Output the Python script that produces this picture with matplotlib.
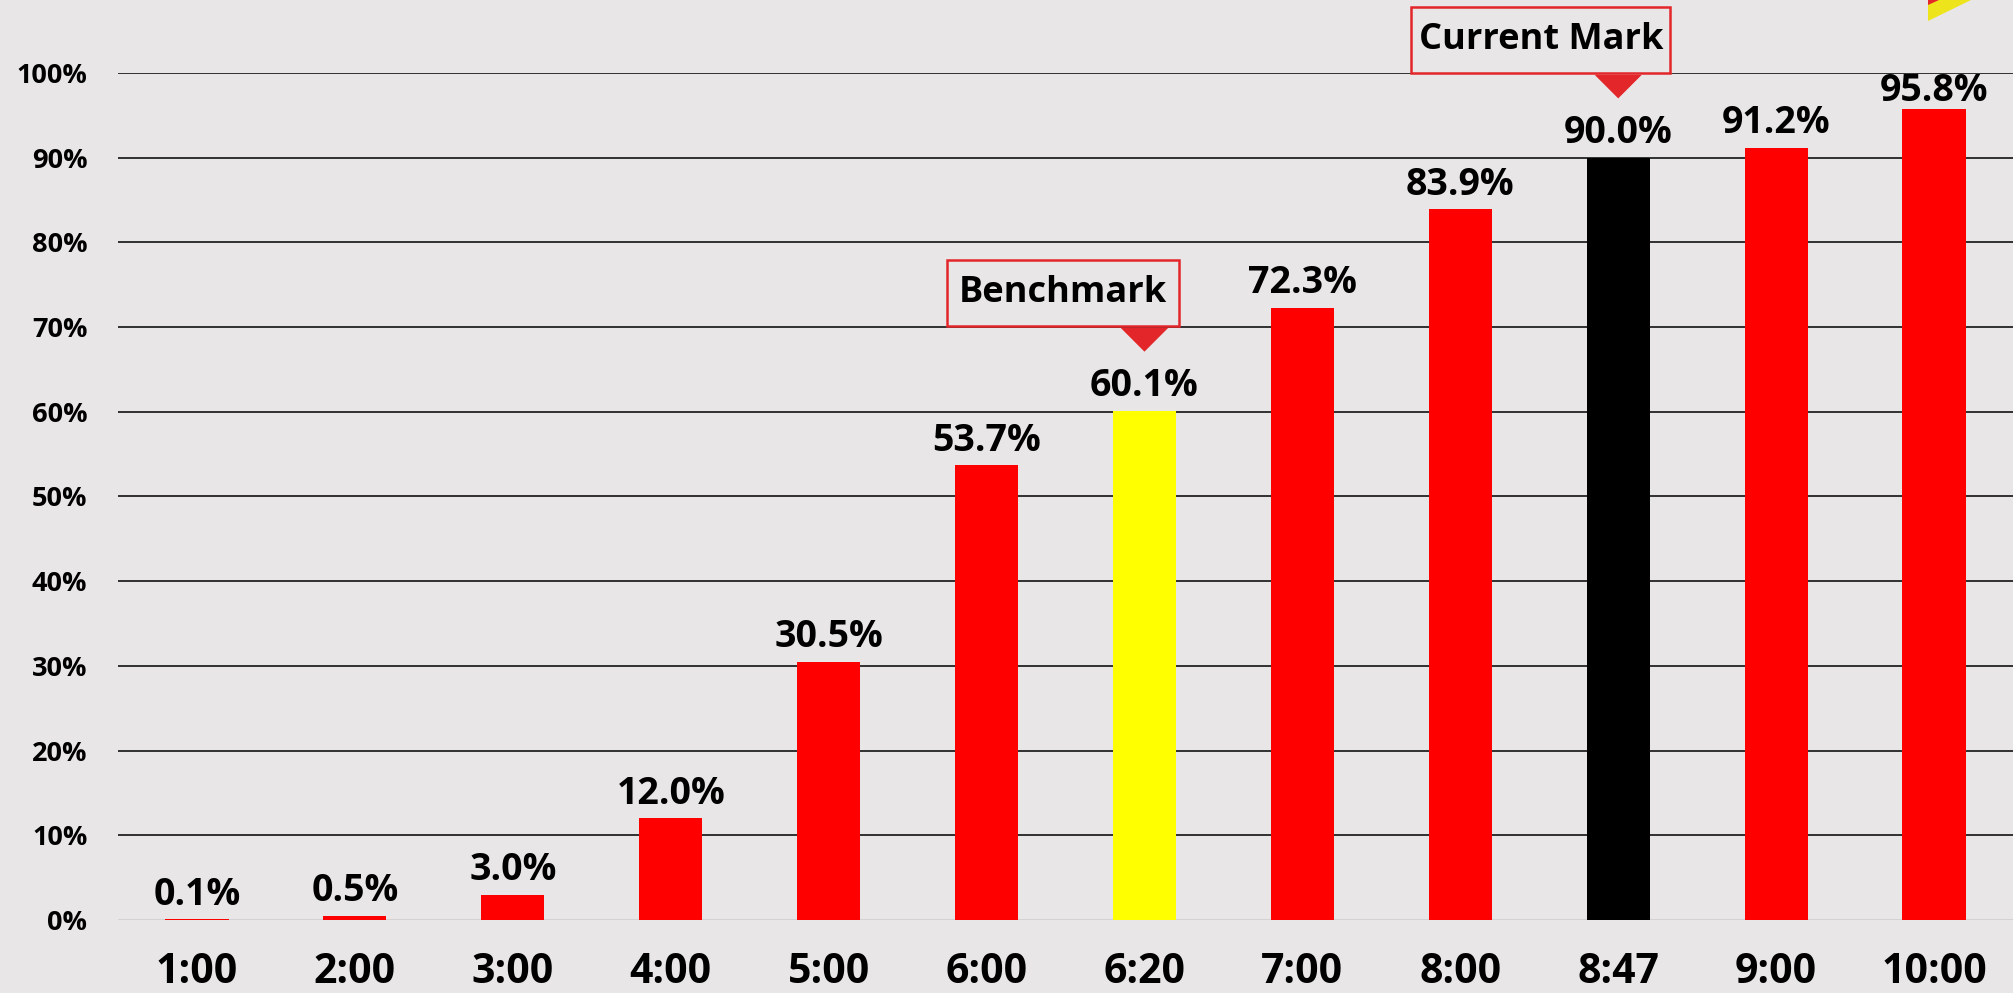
import matplotlib
matplotlib.use("Agg")
import matplotlib.pyplot as plt
from matplotlib.patches import Rectangle, Polygon
from matplotlib.ticker import FuncFormatter

plt.rcParams["font.family"] = ["Open Sans", "DejaVu Sans"]
plt.rcParams["font.weight"] = "bold"

# data
times = ["1:00", "2:00", "3:00", "4:00", "5:00", "6:00", "6:20",
         "7:00", "8:00", "8:47", "9:00", "10:00"]
shares = [0.1, 0.5, 3.0, 12.0, 30.5, 53.7, 60.1, 72.3, 83.9, 90.0, 91.2, 95.8]
bar_colors = ["#FF0000"] * 6 + ["#FFFF00"] + ["#FF0000"] * 2 + ["#000000"] + ["#FF0000"] * 2
# callout label -> (bar index, box left offset, box width) in category units
callouts = {"Benchmark": (6, -1.25, 1.47), "Current Mark": (9, -1.31, 1.64)}

BG = "#E8E6E7"
CALLOUT_RED = "#E3262A"

fig = plt.figure(figsize=(20.13, 9.93), dpi=100, facecolor=BG)
ax = fig.add_axes([118 / 2013, 73 / 993, 1 - 118 / 2013, (920 - 73) / 993])
ax.set_facecolor(BG)

x = list(range(len(times)))
ax.bar(x, shares, width=0.4, color=bar_colors, zorder=3)

ax.set_xlim(-0.5, len(times) - 0.5)
ax.set_ylim(0, 100)
ax.set_yticks(range(0, 101, 10))
ax.yaxis.set_major_formatter(FuncFormatter(lambda v, p: f"{v:.0f}%"))
ax.set_xticks(x)
ax.set_xticklabels(times)

ax.tick_params(axis="y", length=0, pad=22, labelsize=19.5)
ax.tick_params(axis="x", length=0, pad=23, labelsize=29.5)
for lab in ax.get_xticklabels() + ax.get_yticklabels():
    lab.set_fontweight("bold")

for s in ax.spines.values():
    s.set_visible(False)
for v in range(10, 101, 10):
    ax.axhline(v, color="#000000", linewidth=1.1, zorder=1)
ax.axhline(0, color="#D4D2D3", linewidth=1.5, zorder=1)

# value labels (the top one is pushed down a little to stay in the chart)
for xi, val in zip(x, shares):
    off = 4 if val < 95 else -1
    ax.annotate(f"{val:.1f}%", (xi, val), xytext=(0, off), textcoords="offset points",
                ha="center", va="bottom", fontsize=27, fontweight="bold",
                color="#000000", zorder=4, annotation_clip=False)

# callouts: box + downward triangle
for label, (idx, left, width) in callouts.items():
    val = shares[idx]
    apex = val + 7.0
    base = apex + 2.8
    tri = Polygon([(idx - 0.15, base), (idx + 0.15, base), (idx, apex)],
                  closed=True, facecolor=CALLOUT_RED, edgecolor="none",
                  zorder=5, clip_on=False)
    ax.add_patch(tri)
    box_bottom = base + 0.2
    box_top = box_bottom + 7.8
    box = Rectangle((idx + left, box_bottom), width, box_top - box_bottom,
                    facecolor="none", edgecolor=CALLOUT_RED, linewidth=1.8,
                    zorder=5, clip_on=False)
    ax.add_patch(box)
    ax.text(idx + left + width / 2, (box_bottom + box_top) / 2, label,
            ha="center", va="center", fontsize=26, fontweight="bold",
            color="#000000", zorder=6)

# decorative corner stripe (top right)
fig.patches.append(Polygon([(1928 / 2013, 1 - 21 / 993), (1928 / 2013, 1.0), (1971 / 2013, 1.0)],
                           closed=True, transform=fig.transFigure,
                           facecolor="#EEE41C", edgecolor="none"))
fig.patches.append(Polygon([(1928 / 2013, 1 - 5 / 993), (1928 / 2013, 1.0), (1939 / 2013, 1.0)],
                           closed=True, transform=fig.transFigure,
                           facecolor=CALLOUT_RED, edgecolor="none"))

fig.savefig("out.png", dpi=100, facecolor=BG)
